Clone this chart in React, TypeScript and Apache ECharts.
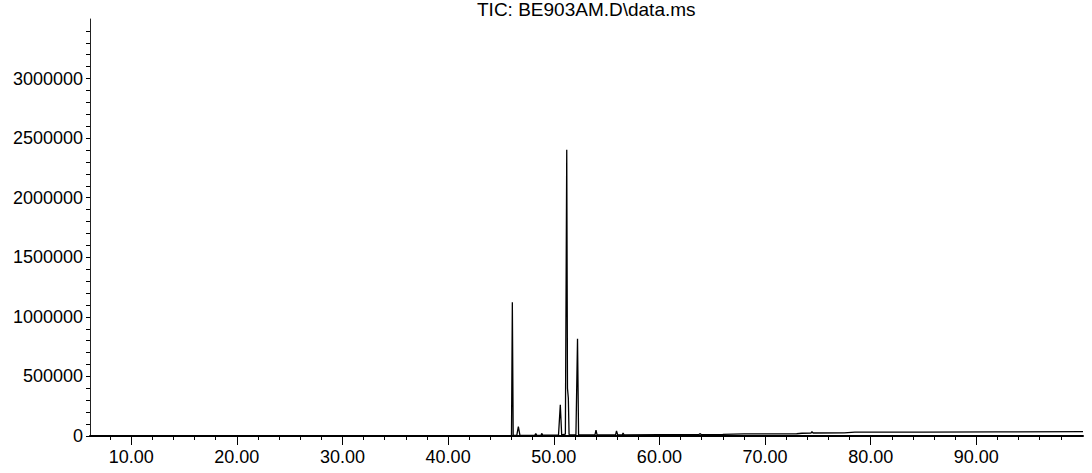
import React, { useEffect, useRef } from "react";
import * as echarts from "echarts";

const TITLE = "TIC: BE903AM.D\\data.ms";

const TIMES = [
  6.1, 30.0, 45.9, 46.0, 46.08, 46.16, 46.5, 46.65, 46.8, 48.2, 48.3, 48.4,
  48.8, 48.86, 48.95, 50.45, 50.62, 50.75, 51.1, 51.23, 51.3, 51.38, 51.45,
  52.1, 52.25, 52.35, 53.9, 54.0, 54.1, 55.85, 55.94, 56.05, 56.5, 56.56,
  56.65, 60.0, 63.75, 63.84, 63.95, 66.0, 68.0, 73.0, 73.5, 74.35, 74.44,
  74.55, 77.5, 78.5, 85.0, 92.0, 100.1,
];

const ABUNDANCE = [
  2000, 2500, 3000, 5000, 1123000, 6000, 5000, 78000, 5000, 5000, 20000, 6000,
  6000, 22000, 7000, 9000, 261000, 10000, 15000, 2402000, 400000, 318000,
  12000, 10000, 817000, 10000, 9000, 50000, 9000, 9000, 42000, 10000, 10000,
  25000, 10000, 11000, 12000, 20000, 12000, 13000, 17000, 19000, 23000, 24000,
  36000, 25000, 27000, 32000, 33000, 35000, 36000,
];

const X_MIN = 6.1;
const X_MAX = 100.1;
const X_LABELS = [10, 20, 30, 40, 50, 60, 70, 80, 90];
const X_MINOR = [
  8, 12, 14, 16, 18, 22, 24, 26, 28, 32, 34, 36, 38, 42, 44, 46, 48, 52, 54,
  56, 58, 62, 64, 66, 68, 72, 74, 76, 78, 82, 84, 86, 88, 92, 94, 96, 98,
];

const Y_MAX = 3500000;
const Y_LABELS = [0, 500000, 1000000, 1500000, 2000000, 2500000, 3000000];
const Y_MINOR = [
  100000, 200000, 300000, 400000, 600000, 700000, 800000, 900000, 1100000,
  1200000, 1300000, 1400000, 1600000, 1700000, 1800000, 1900000, 2100000,
  2200000, 2300000, 2400000, 2600000, 2700000, 2800000, 2900000, 3100000,
  3200000, 3300000, 3400000,
];

const FONT = "'Liberation Sans', Arial, sans-serif";

export default function App() {
  const ref = useRef<HTMLDivElement>(null);
  useEffect(() => {
    const chart = echarts.init(ref.current!, null, { renderer: "svg" });
    const labelStyle = { color: "#000", fontSize: 18, fontFamily: FONT };
    chart.setOption({
      animation: false,
      backgroundColor: "#fff",
      title: {
        text: TITLE,
        left: 477,
        top: 0,
        padding: 0,
        textStyle: { color: "#000", fontSize: 19, fontWeight: "normal", fontFamily: FONT },
      },
      grid: { left: 90, right: 9, top: 19, bottom: 37, containLabel: false },
      xAxis: [
        {
          type: "value",
          min: X_MIN,
          max: X_MAX,
          position: "bottom",
          axisLine: { show: true, lineStyle: { color: "#000", width: 2 } },
          axisTick: { show: true, customValues: X_LABELS, length: 9, lineStyle: { color: "#000", width: 1 } },
          axisLabel: {
            show: true,
            customValues: X_LABELS,
            formatter: (v: number) => v.toFixed(2),
            margin: 12,
            ...labelStyle,
          },
          splitLine: { show: false },
        },
        {
          type: "value",
          min: X_MIN,
          max: X_MAX,
          position: "bottom",
          offset: 0,
          axisLine: { show: false },
          axisTick: { show: true, customValues: X_MINOR, length: 4, lineStyle: { color: "#000", width: 1 } },
          axisLabel: { show: false },
          splitLine: { show: false },
        },
      ],
      yAxis: [
        {
          type: "value",
          min: 0,
          max: Y_MAX,
          position: "left",
          axisLine: { show: true, lineStyle: { color: "#222", width: 1 } },
          axisTick: { show: true, customValues: Y_LABELS, length: 4, lineStyle: { color: "#000", width: 1 } },
          axisLabel: {
            show: true,
            customValues: Y_LABELS,
            formatter: (v: number) => String(v),
            margin: 7,
            ...labelStyle,
          },
          splitLine: { show: false },
        },
        {
          type: "value",
          min: 0,
          max: Y_MAX,
          position: "left",
          offset: 0,
          axisLine: { show: false },
          axisTick: { show: true, customValues: Y_MINOR, length: 4, lineStyle: { color: "#000", width: 1 } },
          axisLabel: { show: false },
          splitLine: { show: false },
        },
      ],
      series: [
        {
          type: "line",
          xAxisIndex: 0,
          yAxisIndex: 0,
          data: TIMES.map((t, i) => [t, ABUNDANCE[i]]),
          showSymbol: false,
          symbol: "none",
          lineStyle: { color: "#000", width: 1.3 },
        },
      ],
    });
    return () => chart.dispose();
  }, []);
  return (
    <div
      ref={ref}
      style={{ position: "fixed", left: 0, top: 0, width: 1092, height: 473 }}
    />
  );
}
